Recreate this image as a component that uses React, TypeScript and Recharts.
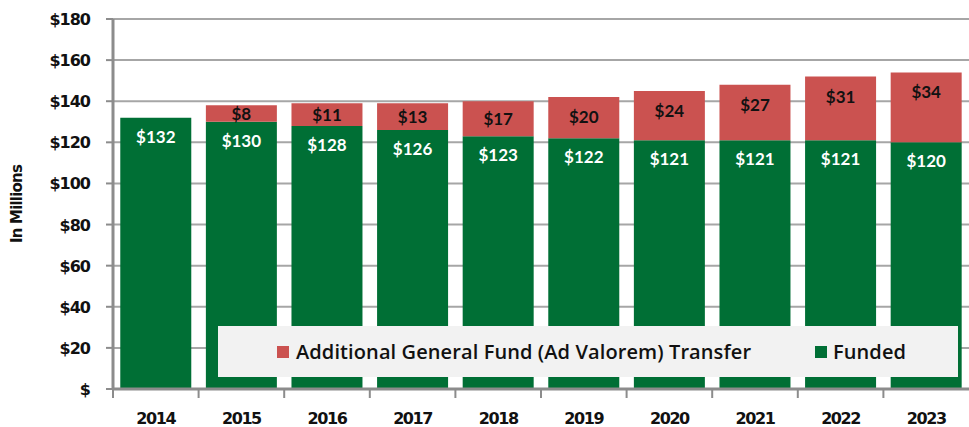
import React from 'react';
import {
  BarChart,
  Bar,
  XAxis,
  YAxis,
  CartesianGrid,
  Legend,
  LabelList
} from 'recharts';

const years = ['2014', '2015', '2016', '2017', '2018', '2019', '2020', '2021', '2022', '2023'];
const funded = [132, 130, 128, 126, 123, 122, 121, 121, 121, 120];
const transfer = [null, 8, 11, 13, 17, 20, 24, 27, 31, 34];
const yTicks = [0, 20, 40, 60, 80, 100, 120, 140, 160, 180];

const data = years.map((year, i) => ({
  year,
  funded: funded[i],
  transfer: transfer[i]
}));

const GREEN = '#006f35';
const RED = '#cb5250';
const AXIS = '#8c8c8c';
const LABEL_FONT = 'Lato, "Open Sans", sans-serif';
const TICK_FONT = '"DejaVu Sans", sans-serif';

const CHART_W = 969;
const PLOT_LEFT = 113;
const BAND = (CHART_W - PLOT_LEFT) / years.length;

const money = (v: number) => (v === 0 ? '$' : `$${v}`);

const XTick = (props: any) => {
  const { x, y, payload } = props;
  return (
    <g>
      <line x1={x - BAND / 2} x2={x - BAND / 2} y1={y - 7} y2={y + 1} stroke={AXIS} strokeWidth={2} />
      <text
        x={x}
        y={y + 27}
        textAnchor="middle"
        fontFamily={TICK_FONT}
        fontWeight="bold"
        fontSize={16}
        letterSpacing={-1.4}
        fill="#111"
      >
        {payload.value}
      </text>
    </g>
  );
};

const YTick = (props: any) => {
  const { x, y, payload } = props;
  return (
    <text
      x={x - 14}
      y={y + 6}
      textAnchor="end"
      fontFamily={TICK_FONT}
      fontWeight="bold"
      fontSize={16}
      letterSpacing={-1}
      fill="#111"
    >
      {money(payload.value)}
    </text>
  );
};

// transfer labels sit near the top of the red segment, centred when it is short
const TransferLabel = (props: any) => {
  const { x, y, width, height, value } = props;
  if (value == null) return null;
  const cy = y + Math.min(height / 2, 20);
  return (
    <text
      x={x + width / 2}
      y={cy}
      dy={6}
      textAnchor="middle"
      fontFamily={LABEL_FONT}
      fontWeight="bold"
      fontSize={17}
      fill="#111"
    >
      {`$${value}`}
    </text>
  );
};

const LegendBox = () => (
  <div
    style={{
      position: 'relative',
      width: 740,
      height: 51,
      background: '#f2f2f2',
      fontFamily: '"Open Sans", sans-serif',
      fontWeight: 600,
      fontSize: 20,
      letterSpacing: 0.1,
      color: '#111',
      whiteSpace: 'nowrap'
    }}
  >
    <div style={{ position: 'absolute', left: 59, top: 0, height: 51, display: 'flex', alignItems: 'center' }}>
      <span style={{ width: 12, height: 12, background: RED, marginRight: 7 }} />
      <span>Additional General Fund (Ad Valorem) Transfer</span>
    </div>
    <div style={{ position: 'absolute', left: 597, top: 0, height: 51, display: 'flex', alignItems: 'center' }}>
      <span style={{ width: 12, height: 12, background: GREEN, marginRight: 6 }} />
      <span>Funded</span>
    </div>
  </div>
);

const App = () => (
  <div style={{ position: 'absolute', left: 0, top: 0, width: CHART_W, height: 427, background: '#fff' }}>
    <BarChart
      width={CHART_W}
      height={427}
      data={data}
      margin={{ top: 19, right: 0, bottom: 8, left: 33 }}
      barCategoryGap="8.5%"
    >
      <CartesianGrid vertical={false} stroke="#a6a6a6" strokeWidth={2} />
      <XAxis
        dataKey="year"
        height={30}
        tickLine={false}
        axisLine={{ stroke: AXIS, strokeWidth: 3 }}
        tick={<XTick />}
        interval={0}
      />
      <YAxis
        width={80}
        domain={[0, 180]}
        ticks={yTicks}
        axisLine={{ stroke: AXIS, strokeWidth: 3 }}
        tickLine={{ stroke: AXIS, strokeWidth: 2 }}
        tickSize={7}
        tick={<YTick />}
        label={{
          value: 'In Millions',
          angle: -90,
          position: 'insideLeft',
          offset: -16,
          style: { fill: '#111', fontFamily: TICK_FONT, fontWeight: 'bold', fontSize: 15, letterSpacing: -0.8, textAnchor: 'middle' }
        }}
      />
      <Legend
        layout="vertical"
        align="center"
        verticalAlign="middle"
        content={<LegendBox />}
        wrapperStyle={{ left: 218, top: 326, width: 740, height: 51 }}
      />
      <Bar dataKey="funded" stackId="a" fill={GREEN} isAnimationActive={false}>
        <LabelList
          dataKey="funded"
          position="insideTop"
          offset={13}
          formatter={(v: any) => `$${v}`}
          style={{ fill: '#fff', fontFamily: LABEL_FONT, fontWeight: 'bold', fontSize: 17 }}
        />
      </Bar>
      <Bar dataKey="transfer" stackId="a" fill={RED} isAnimationActive={false}>
        <LabelList dataKey="transfer" content={<TransferLabel />} />
      </Bar>
    </BarChart>
  </div>
);

export default App;
